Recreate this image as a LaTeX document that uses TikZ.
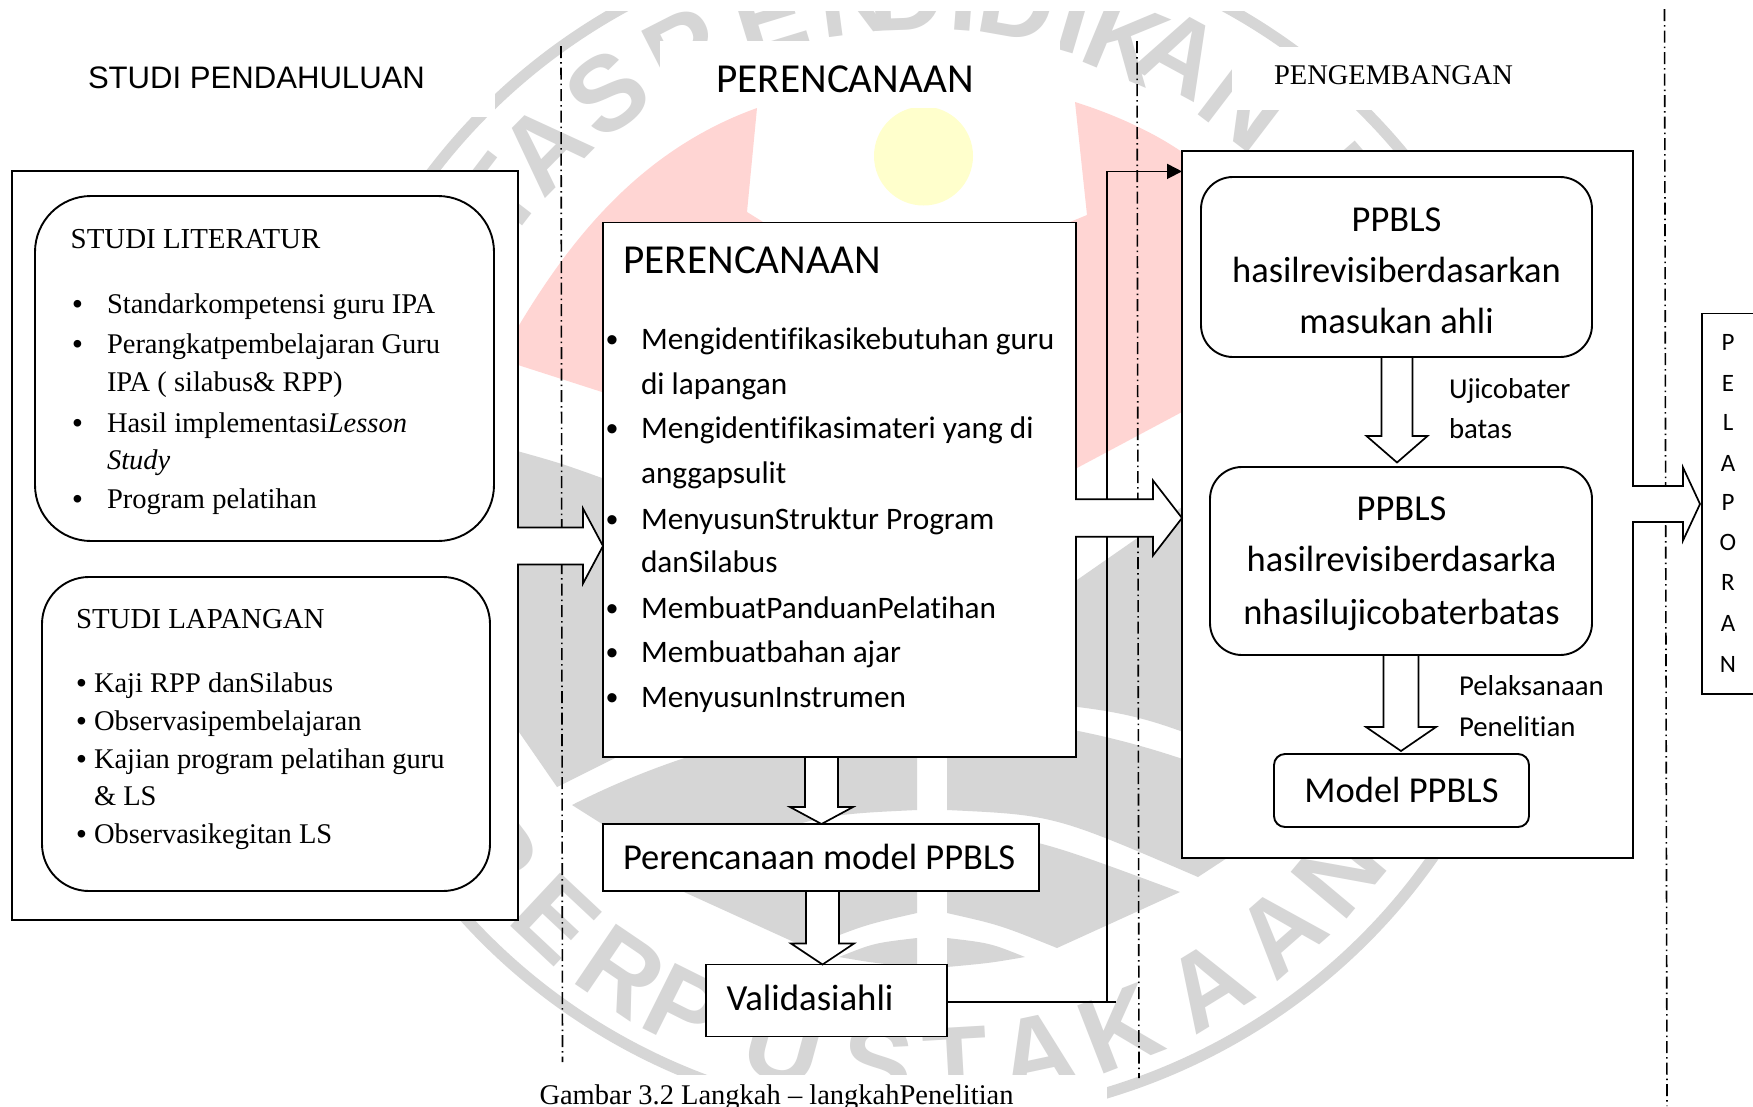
\documentclass[tikz,border=0pt]{standalone}
\usepackage{fontspec}
\usetikzlibrary{calc,arrows.meta}
\setmainfont{Liberation Serif}
\newfontfamily\carl[Ligatures=NoCommon]{Carlito}
\newfontfamily\arialF{Liberation Sans}
\newcommand{\fsz}[1]{\fontsize{#1}{#1}\selectfont}
\definecolor{wmgray}{HTML}{D6D6D6}
\definecolor{wmpink}{HTML}{FFD5D3}
\definecolor{wmyel}{HTML}{FFFFCC}
\tikzset{
  boxx/.style={draw=black,line width=1.9pt,fill=white,inner sep=0pt,outer sep=0pt,rectangle},
  roundA/.style={boxx,rounded corners=56pt},
  roundB/.style={boxx,rounded corners=47pt},
  roundC/.style={boxx,rounded corners=32pt},
  roundD/.style={boxx,rounded corners=11pt},
  tx/.style={anchor=base west,inner sep=0pt,outer sep=0pt},
  txc/.style={anchor=base,inner sep=0pt,outer sep=0pt},
  serifT/.style={tx,font=\fsz{28.9}},
  serifL/.style={tx,font=\fsz{28.5}},
  bullT/.style={tx,font=\arialF\fsz{28}},
  carlT/.style={tx,font=\carl\fsz{31.3}},
  carlC/.style={txc,font=\carl\fsz{36.5}},
  carlS/.style={tx,font=\carl\fsz{28.8}},
  pelT/.style={txc,font=\carl\fsz{25}},
  wm/.style={inner sep=0pt,outer sep=0pt,text=wmgray,font=\arialF\bfseries\fsz{106}},
  dashline/.style={line width=1.6pt,dash pattern=on 12pt off 4pt on 1.5pt off 4pt},
  blk/.style={draw=black,line width=1.7pt,fill=white,line join=miter},
  conn/.style={draw=black,line width=1.7pt},
}
\newcommand{\hblock}[5]{\draw[blk] let \p1=(#1),\p2=(#2) in
  (\x1-1pt,\y1+#3pt)--(\x2-#5pt,\y1+#3pt)--(\x2-#5pt,\y1+#4pt)--(\x2,\y1)--(\x2-#5pt,\y1-#4pt)--(\x2-#5pt,\y1-#3pt)--(\x1-1pt,\y1-#3pt);}
\newcommand{\vblock}[5]{\draw[blk] let \p1=(#1),\p2=(#2) in
  (\x1-#3pt,\y1-1pt)--(\x1-#3pt,\y2+#5pt)--(\x1-#4pt,\y2+#5pt)--(\x1,\y2)--(\x1+#4pt,\y2+#5pt)--(\x1+#3pt,\y2+#5pt)--(\x1+#3pt,\y1-1pt);}
\begin{document}
\begin{tikzpicture}[x=1pt,y=-1pt]
\useasboundingbox (0,0) rectangle (1753,1106);
\fill[white] (0,0) rectangle (1753,1106);
% watermark
\fill[wmgray,even odd rule] (925,525) circle [x radius=618,y radius=600] (925,525) circle [x radius=607,y radius=589];
\foreach \a/\l/\r [count=\i] in {-52.5/T/538,-45.3/A/536,-36.4/S/536,-27/P/532,-17/E/532,-7.5/N/532,-2/D/532,4.3/I/532,10/D/532,16.5/I/530,22.5/K/525,28.5/A/536,37.3/N/528,49/I/540}
  \node[wm,rotate={0-(\a)},name=wt\i] at ({925+\r*sin(\a)},{525-\r*cos(\a)}) {\l};
\foreach \a/\l [count=\i] in {52.9/P,43.1/E,34.2/R,26.5/P,15.2/U,5/S,-3.3/T,-12/A,-21.2/K,-31.6/A,-41.2/A,-50.1/N}
  \node[wm,rotate={0-(\a)},name=wb\i] at ({925-540*sin(\a)},{525+540*cos(\a)}) {\l};
\fill[wmpink] (757,108) .. controls (640,150) and (570,240) .. (518,327) -- (518,365) -- (602,392) -- (700,420) -- (763,222) -- (747,212) -- cycle;
\fill[wmpink] (1075,102) .. controls (1110,113) and (1150,130) .. (1182,152) -- (1182,412) -- (1077,468) -- (1070,222) -- (1087,215) -- cycle;
\fill[wmyel] (923.5,156) circle [radius=49.5];
\fill[wmgray] (510,449) .. controls (560,463) .. (602,478) -- (700,520) -- (917,600) -- (917,695) .. controls (734,710) .. (617,757) -- (557,787) -- (519,732) -- (510,720) -- cycle;
\fill[wmgray] (947,600) -- (1077,580) -- (1182,507) -- (1300,500) -- (1345,732) -- (1307,787) -- (1247,757) .. controls (1130,710) .. (947,695) -- cycle;
\fill[wmgray] (572,805) .. controls (680,750) and (800,720) .. (917,715) -- (917,810) .. controls (810,815) .. (666,877) -- (637,846) -- cycle;
\fill[wmgray] (1292,805) .. controls (1184,750) and (1064,720) .. (947,715) -- (947,810) .. controls (1054,815) .. (1198,877) -- (1227,858) -- cycle;
\fill[wmgray] (947,828) .. controls (1040,840) .. (1180,892) -- (1057,948) .. controls (1000,925) .. (947,913) -- cycle;
\fill[wmgray] (917,828) .. controls (824,840) .. (684,892) -- (807,948) .. controls (864,925) .. (917,913) -- cycle;
\fill[wmgray] (947,938) .. controls (990,943) .. (1025,957) .. controls (990,963) .. (947,967) -- cycle;
\fill[wmgray] (917,938) .. controls (874,943) .. (839,957) .. controls (874,963) .. (917,967) -- cycle;
% white text-box masks of the original
\fill[white] (0,0) rectangle (1753,10.7);
\fill[white] (0,1075) rectangle (1107,1107);
\fill[white] (0,0) rectangle (495,117);
\fill[white] (660,41) rectangle (1060,108);
\fill[white] (1232,47) rectangle (1520,110);
% dash-dot separators
\coordinate (d1a) at (561,46); \coordinate (d1b) at (562.5,1062);
\coordinate (d2a) at (1137,41); \coordinate (d2b) at (1139,1078);
\coordinate (d3a) at (1664.5,9); \coordinate (d3b) at (1667,1106);
\draw[dashline] (d1a) -- (d1b);
\draw[dashline] (d2a) -- (d2b);
\draw[dashline] (d3a) -- (d3b);
% boxes
\node[boxx,minimum width=506pt,minimum height=749pt] (left) at (265,545.5) {};
\node[roundA,minimum width=459pt,minimum height=345pt] (lit) at (264.5,368.5) {};
\node[roundB,minimum width=448pt,minimum height=314pt] (lap) at (266,734) {};
\node[boxx,minimum width=473pt,minimum height=534.5pt] (plan) at (839.5,489.75) {};
\node[boxx,minimum width=436pt,minimum height=67pt] (pm) at (821,857.5) {};
\node[boxx,minimum width=241pt,minimum height=72pt] (val) at (826.5,1000.5) {};
\node[boxx,minimum width=451pt,minimum height=707pt] (rbox) at (1407.5,504.5) {};
\node[roundC,minimum width=391pt,minimum height=180pt] (r1) at (1396.5,267) {};
\node[roundC,minimum width=382pt,minimum height=188pt] (r2) at (1401,561) {};
\node[roundD,minimum width=255pt,minimum height=73pt] (mod) at (1401.5,790.5) {};
\node[boxx,minimum width=58pt,minimum height=380.5pt] (pel) at (1731,503.75) {};
% connector
\coordinate (turnA) at (1107,1002);
\coordinate (turnB) at (1107,171.4);
\coordinate (over) at (1116,1002);
\draw[conn] (val.east |- turnA) -- (over);
\draw[conn,-{Triangle[length=15pt,width=15pt]}] (turnA) -- (turnB) -- (rbox.west |- turnB);
% block arrows
\coordinate (ya1) at (0,546); \coordinate (ya2) at (0,518);
\hblock{left.east |- ya1}{plan.west |- ya1}{18.5}{37.5}{20}
\hblock{plan.east |- ya2}{rbox.west |- ya2}{18.75}{37.5}{29}
\coordinate (pelTip) at (1700,504);
\hblock{rbox.east |- pelTip}{pelTip}{18}{36.5}{17}
\coordinate (xb1) at (821.5,0); \coordinate (xb2) at (822.5,0);
\coordinate (xc1) at (1397,0); \coordinate (xc2) at (1401,0);
\vblock{plan.south -| xb1}{pm.north -| xb1}{16.5}{31.5}{17}
\vblock{pm.south -| xb2}{val.north -| xb2}{16.5}{31.5}{21}
\coordinate (tc1) at (1397,462.5); \coordinate (tc2) at (1401,751);
\vblock{r1.south -| xc1}{tc1}{15.5}{30.5}{26.5}
\vblock{r2.south -| xc2}{tc2}{17.5}{35}{24}
% headings
\node[tx,font=\arialF\fsz{31.1}] (h1) at (88,88) {STUDI PENDAHULUAN};
\node[tx,font=\carl\fsz{41.2}] (h2) at (716.5,92) {PERENCANAAN};
\node[tx,font=\fsz{28.5}] (h3) at (1274,84) {PENGEMBANGAN};
% studi literatur
\node[serifT] (t1) at (70.7,248) {STUDI LITERATUR};
\foreach \y/\t [count=\i] in {313.5/{Standarkompetensi guru IPA},353.6/{Perangkatpembelajaran Guru},391/{IPA ( silabus\& RPP)},432/{Hasil implementasi\textit{Lesson}},469.6/{\textit{Study}},508.5/{Program pelatihan}}
  \node[serifL,name=lt\i] at (107,\y) {\t};
\foreach \y [count=\i] in {313.5,353.6,432,508.5}
  \node[bullT,name=lb\i] at (72.5,\y) {•};
% studi lapangan
\node[serifT] (t2) at (76,628) {STUDI LAPANGAN};
\foreach \y/\t [count=\i] in {692/{Kaji RPP danSilabus},730/{Observasipembelajaran},768/{Kajian program pelatihan guru},805.6/{\& LS},843.5/{Observasikegitan LS}}
  \node[serifL,name=st\i] at (94,\y) {\t};
\foreach \y [count=\i] in {692,730,768,843.5}
  \node[bullT,name=sb\i] at (76.5,\y) {•};
% perencanaan box
\node[tx,font=\carl\fsz{41.2}] (t3) at (623.5,273) {PERENCANAAN};
\foreach \y/\t [count=\i] in {349.5/{Mengidentifikasikebutuhan guru},394.5/{di lapangan},438.5/{Mengidentifikasimateri yang di},483/{anggapsulit},529.5/{MenyusunStruktur Program},572.5/{danSilabus},618.5/{MembuatPanduanPelatihan},662/{Membuatbahan ajar},707/{MenyusunInstrumen}}
  \node[carlT,name=pt\i] at (641,\y) {\t};
\foreach \y [count=\i] in {349.5,438.5,529.5,618.5,662,707}
  \node[tx,font=\arialF\fsz{34},name=pb\i] at (606,\y+2) {•};
\node[tx,font=\carl\fsz{36.5}] (t4) at (623,869) {Perencanaan model PPBLS};
\node[tx,font=\carl\fsz{36.8}] (t5) at (726.5,1010.5) {Validasiahli};
% pengembangan
\node[carlC] (r1a) at (1396.5,231.6) {PPBLS};
\node[carlC] (r1b) at (1396.5,282.4) {hasilrevisiberdasarkan};
\node[carlC] (r1c) at (1396.5,333) {masukan ahli};
\node[carlC] (r2a) at (1401.5,520.6) {PPBLS};
\node[carlC] (r2b) at (1401.5,571.5) {hasilrevisiberdasarka};
\node[carlC] (r2c) at (1401.5,624) {nhasilujicobaterbatas};
\node[carlC] (m1) at (1401.5,802) {Model PPBLS};
\node[carlS] (u1) at (1449,398.5) {Ujicobater};
\node[carlS] (u2) at (1449,438.4) {batas};
\node[carlS] (u3) at (1459,695.7) {Pelaksanaan};
\node[carlS] (u4) at (1459,736.5) {Penelitian};
% pelaporan
\foreach \y/\l [count=\i] in {350/P,391/E,430/L,471/A,510.7/P,550/O,590.8/R,631.6/A,672/N}
  \node[pelT,name=pl\i] at (1728,\y) {\l};
% caption
\node[tx,font=\fsz{28.5}] (cap) at (539.5,1104) {Gambar 3.2 Langkah – langkahPenelitian};
\end{tikzpicture}
\end{document}
